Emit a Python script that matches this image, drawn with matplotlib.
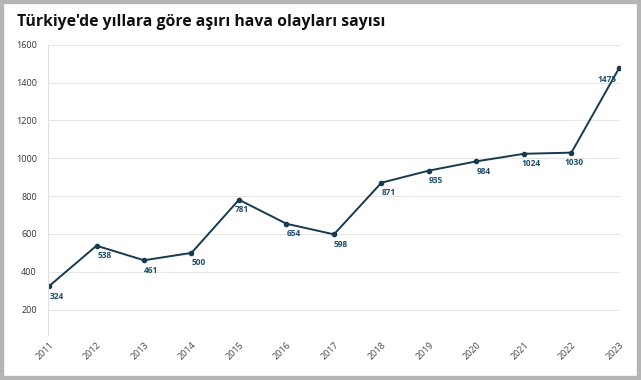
import matplotlib.pyplot as plt
from matplotlib.patches import Rectangle

# Datos
yillar = [2011, 2012, 2013, 2014, 2015, 2016, 2017, 2018, 2019, 2020, 2021, 2022, 2023]
olay_sayisi = [324, 538, 461, 500, 781, 654, 598, 871, 935, 984, 1024, 1030, 1475]
baslik = "Türkiye'de yıllara göre aşırı hava olayları sayısı"

plt.rcParams['font.family'] = ['Open Sans', 'DejaVu Sans']

fig = plt.figure(figsize=(6.41, 3.80), dpi=100)
# marco gris
fig.patches.append(Rectangle((0, 0), 1, 1, transform=fig.transFigure,
                             facecolor='none', edgecolor='#b5b5b5', linewidth=6))

ax = fig.add_axes([0.075, 0.118, 0.892, 0.764])
x = list(range(len(yillar)))
ax.plot(x, olay_sayisi, color='#163a4f', linewidth=1.4, marker='o', markersize=3)

for i, v in zip(x, olay_sayisi):
    if i == len(x) - 1:
        ax.annotate(str(v), (i, v), xytext=(-2, -5), textcoords='offset points',
                    ha='right', va='top', fontsize=6, fontweight='bold', color='#1f4e6b')
    else:
        dx = 6 if i in (0, 1) else (2 if i in (4, 11) else 5)
        ax.annotate(str(v), (i, v), xytext=(dx, -4), textcoords='offset points',
                    ha='center', va='top', fontsize=6, fontweight='bold', color='#1f4e6b')

ax.set_ylim(65, 1600)
ax.set_xlim(-0.02, len(x) - 1 + 0.02)
ax.set_yticks([200, 400, 600, 800, 1000, 1200, 1400, 1600])
ax.set_xticks(x)
ax.set_xticklabels([str(y) for y in yillar], rotation=45, ha='right',
                   rotation_mode='anchor', fontsize=6.5, color='#444444')
ax.tick_params(axis='y', labelsize=6.5, labelcolor='#333333', length=0, pad=8)
ax.tick_params(axis='x', length=0, pad=4)
ax.grid(axis='y', color='#e6e6e6', linewidth=0.8)
ax.set_axisbelow(True)
for s in ['top', 'right', 'bottom']:
    ax.spines[s].set_visible(False)
ax.spines['left'].set_color('#e0e0e0')

fig.text(0.027, 0.932, baslik, fontsize=11.3, fontweight='bold', color='#111111')

fig.savefig('out.png', dpi=100)
